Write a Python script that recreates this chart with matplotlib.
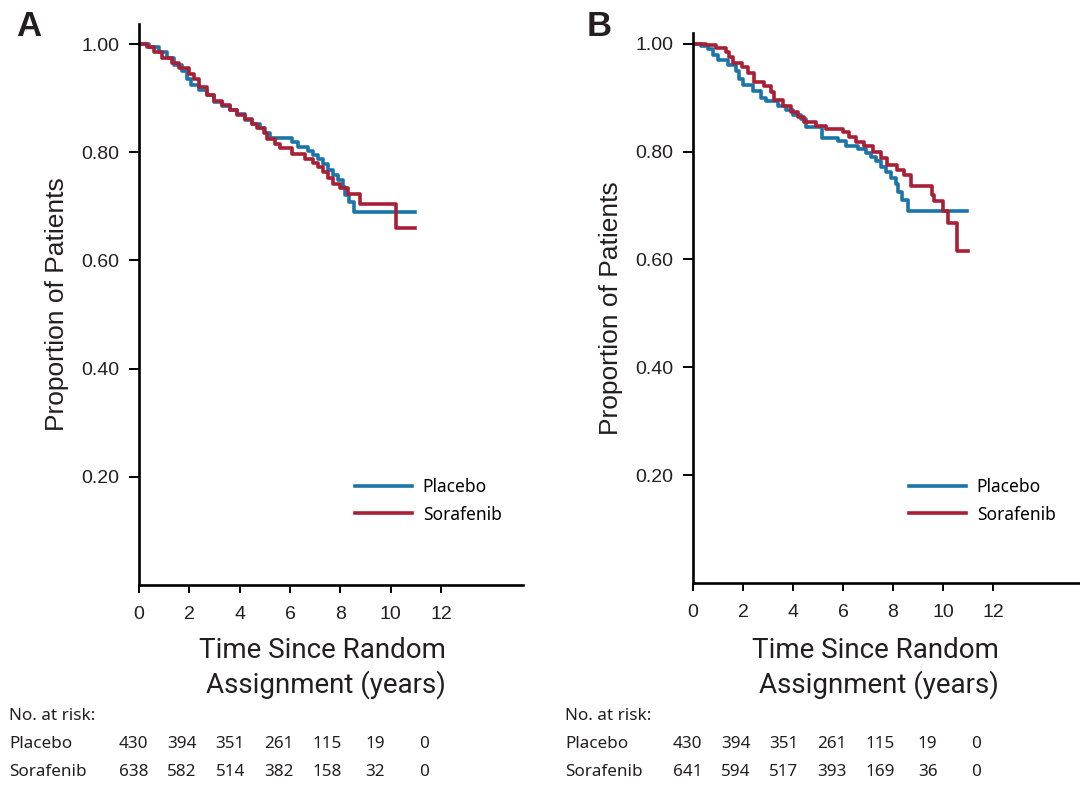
import matplotlib
matplotlib.use("Agg")
import matplotlib.pyplot as plt
from matplotlib.transforms import blended_transform_factory

# ---- data ----
# Panel A
a_placebo_t = [0, 0.4, 0.8, 1.1, 1.4, 1.7, 1.9, 2.05, 2.4, 2.7, 3.0, 3.3, 3.6, 3.9, 4.2, 4.5,
               4.8, 5.0, 5.2, 6.1, 6.3, 6.7, 6.9, 7.1, 7.3, 7.5, 7.7, 7.9, 8.1, 8.2, 8.35, 8.55, 10.95]
a_placebo_s = [1.0, 0.995, 0.985, 0.975, 0.962, 0.95, 0.935, 0.925, 0.915, 0.905, 0.893, 0.885,
               0.878, 0.87, 0.86, 0.853, 0.845, 0.835, 0.827, 0.818, 0.81, 0.803, 0.795, 0.787,
               0.778, 0.768, 0.757, 0.748, 0.735, 0.72, 0.708, 0.69, 0.69]
a_sora_t = [0, 0.3, 0.6, 0.9, 1.3, 1.6, 2.0, 2.2, 2.4, 2.7, 3.0, 3.3, 3.6, 3.9, 4.2, 4.5, 4.7,
            4.95, 5.1, 5.4, 5.6, 6.1, 6.6, 6.9, 7.1, 7.3, 7.5, 7.7, 8.0, 8.3, 8.8, 10.2, 10.95]
a_sora_s = [1.0, 0.995, 0.985, 0.975, 0.965, 0.955, 0.945, 0.935, 0.92, 0.905, 0.895, 0.888,
            0.878, 0.868, 0.862, 0.852, 0.845, 0.835, 0.824, 0.815, 0.807, 0.797, 0.788, 0.78,
            0.772, 0.764, 0.752, 0.742, 0.733, 0.722, 0.705, 0.66, 0.66]

# Panel B
b_placebo_t = [0, 0.3, 0.6, 0.8, 1.0, 1.4, 1.7, 1.85, 2.0, 2.4, 2.7, 2.9, 3.4, 3.7, 4.0, 4.3,
               4.5, 5.15, 5.8, 6.1, 6.6, 6.9, 7.1, 7.3, 7.5, 7.7, 7.9, 8.1, 8.2, 8.35, 8.6, 10.95]
b_placebo_s = [1.0, 0.995, 0.99, 0.98, 0.97, 0.96, 0.95, 0.935, 0.924, 0.912, 0.9, 0.893, 0.885,
               0.877, 0.868, 0.86, 0.845, 0.825, 0.82, 0.81, 0.805, 0.797, 0.79, 0.782, 0.772,
               0.762, 0.752, 0.74, 0.725, 0.71, 0.69, 0.69]
b_sora_t = [0, 0.5, 0.9, 1.3, 1.45, 1.6, 1.95, 2.2, 2.45, 2.85, 3.1, 3.25, 3.6, 3.9, 4.2, 4.45,
            4.9, 5.3, 6.0, 6.25, 6.5, 6.85, 7.2, 7.5, 7.75, 8.15, 8.45, 8.7, 9.55, 9.65, 10.0,
            10.2, 10.55, 11.0]
b_sora_s = [1.0, 0.997, 0.993, 0.985, 0.975, 0.965, 0.957, 0.945, 0.93, 0.922, 0.91, 0.895,
            0.885, 0.873, 0.865, 0.855, 0.848, 0.842, 0.837, 0.828, 0.818, 0.81, 0.8, 0.789,
            0.775, 0.765, 0.756, 0.737, 0.72, 0.708, 0.69, 0.668, 0.615, 0.615]

risk_labels = ["Placebo", "Sorafenib"]
a_risk_placebo = [430, 394, 351, 261, 115, 19, 0]
a_risk_sora = [638, 582, 514, 382, 158, 32, 0]
b_risk_placebo = [430, 394, 351, 261, 115, 19, 0]
b_risk_sora = [641, 594, 517, 393, 169, 36, 0]
risk_times = [0, 2, 4, 6, 8, 10, 12]

BLUE = "#1a75a9"
RED = "#a91f35"
INK = "#231f20"
TICK_FONT = "Liberation Sans"
NARROW = "Roboto"
HUMAN = "Noto Sans"

fig = plt.figure(figsize=(10.8, 7.98), dpi=100)


def panel(rect, letter, letter_xy, pl_t, pl_s, so_t, so_s, risk_pl, risk_so,
          xmax, ytop, label_x, legend_xy, xlabel_right):
  ax = fig.add_axes(rect)
  ax.step(pl_t, pl_s, where="post", color=BLUE, lw=2.6, label="Placebo")
  ax.step(so_t, so_s, where="post", color=RED, lw=2.6, label="Sorafenib")
  ax.set_xlim(0, xmax)
  ax.set_ylim(0, ytop)
  ax.set_xticks(range(0, 13, 2))
  ax.set_yticks([0.2, 0.4, 0.6, 0.8, 1.0])
  ax.set_yticklabels(["0.20", "0.40", "0.60", "0.80", "1.00"])
  for s in ["top", "right"]:
    ax.spines[s].set_visible(False)
  for s in ["left", "bottom"]:
    ax.spines[s].set_linewidth(1.9)
    ax.spines[s].set_color("black")
  ax.tick_params(axis="x", direction="out", length=6, width=1.4, pad=9,
                 labelsize=14, labelcolor=INK)
  ax.tick_params(axis="y", direction="out", length=7, width=1.4, pad=7,
                 labelsize=14, labelcolor=INK)
  for lab in ax.get_xticklabels() + ax.get_yticklabels():
    lab.set_fontfamily(TICK_FONT)
  ax.set_ylabel("Proportion of Patients", fontsize=19, family=TICK_FONT,
                color=INK, labelpad=9)

  fig.text(xlabel_right / 1080, 1 - 668 / 798, "Time Since Random\nAssignment (years)",
           ha="right", va="center", multialignment="right", fontsize=20,
           family=NARROW, color=INK, linespacing=1.25)

  fig.text(letter_xy[0] / 1080, 1 - letter_xy[1] / 798, letter, fontsize=25,
           fontweight="bold", family=TICK_FONT, ha="center", va="center", color=INK)

  ax.legend(loc="upper left", bbox_to_anchor=(legend_xy[0] / 1080, 1 - legend_xy[1] / 798),
            bbox_transform=fig.transFigure, frameon=False, borderpad=0, borderaxespad=0,
            handlelength=3.3, handletextpad=0.6, labelspacing=0.55,
            prop={"family": HUMAN, "size": 12.5})

  # number-at-risk table: x follows the time axis (slightly compressed as in source)
  tr = blended_transform_factory(ax.transData, fig.transFigure)
  fig.text(label_x / 1080, 1 - 716.5 / 798, "No. at risk:", family=HUMAN, fontsize=12.3,
           va="center", color=INK)
  for row, (name, vals) in enumerate(zip(risk_labels, [risk_pl, risk_so])):
    y = 1 - (744.5 + row * 28) / 798
    fig.text(label_x / 1080, y, name, family=HUMAN, fontsize=12.3, va="center", color=INK)
    for t, v in zip(risk_times, vals):
      ax.text(t * 0.96 - 0.21, y, str(v), transform=tr, family=HUMAN, fontsize=12.3,
              ha="center", va="center", color=INK, clip_on=False)
  return ax


panel([139 / 1080, 1 - 585 / 798, 384 / 1080, 561 / 798], "A", (29, 26),
      a_placebo_t, a_placebo_s, a_sora_t, a_sora_s, a_risk_placebo, a_risk_sora,
      15.26, 1.037, 9, (355, 478), 446)
panel([693 / 1080, 1 - 583 / 798, 387 / 1080, 550 / 798], "B", (599, 26),
      b_placebo_t, b_placebo_s, b_sora_t, b_sora_s, b_risk_placebo, b_risk_sora,
      15.48, 1.02, 565, (909, 478), 999)

fig.savefig("out.png", dpi=100)
